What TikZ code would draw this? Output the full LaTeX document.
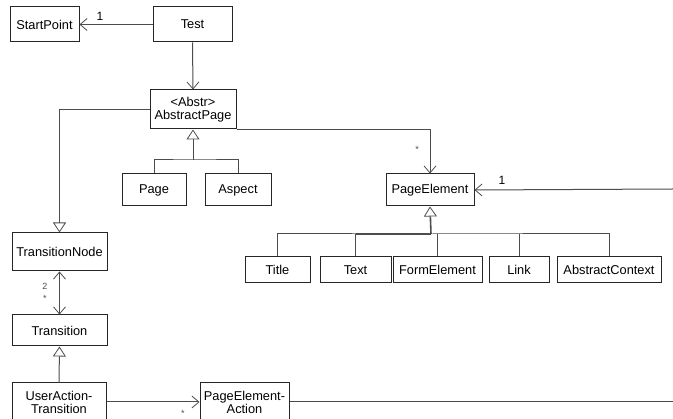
\documentclass[tikz,border=0pt]{standalone}
\usepackage{fontspec}
\setmainfont{Liberation Sans}
\usetikzlibrary{arrows.meta}
\begin{document}
\begin{tikzpicture}[x=1pt,y=-1pt,
  cls/.style={draw=black!85,line width=1pt,fill=white,inner sep=1pt,align=center,
    font=\fontsize{12.8}{14}\selectfont},
  conn/.style={draw=black!70,line width=1pt},
  nav/.style={conn,-{Straight Barb[length=7pt,width=12pt,line width=0.8pt]}},
  nav2/.style={conn,{Straight Barb[length=7pt,width=12pt,line width=0.8pt]}-{Straight Barb[length=7pt,width=12pt,line width=0.8pt]}},
  inh/.style={conn,-{Triangle[open,length=10pt,width=13pt,line width=0.8pt]}},
  mult/.style={font=\fontsize{12}{13}\selectfont,inner sep=0pt},
  smult/.style={font=\fontsize{9}{10}\selectfont,inner sep=0pt,text=black!70}]
\useasboundingbox (0,0) rectangle (673,419);
\clip (0,0) rectangle (673,419);

% classes
\node[cls,minimum width=69pt,minimum height=35pt] (start) at (44.5,24.5) {StartPoint};
\node[cls,minimum width=79pt,minimum height=35pt] (test) at (192.5,24.5) {Test};
\node[cls,minimum width=86pt,minimum height=39pt] (apage) at (193,109.5) {<Abstr>\\[-1pt]AbstractPage};
\node[cls,minimum width=64pt,minimum height=32pt] (page) at (154,190) {Page};
\node[cls,minimum width=66pt,minimum height=32pt] (aspect) at (238,190) {Aspect};
\node[cls,minimum width=88pt,minimum height=32pt] (pelem) at (430,190) {PageElement};
\node[cls,minimum width=65pt,minimum height=26pt] (title) at (277.5,270) {Title};
\node[cls,minimum width=71pt,minimum height=26pt] (text) at (355.5,270) {Text};
\node[cls,minimum width=89pt,minimum height=26pt] (form) at (437.5,270) {FormElement};
\node[cls,minimum width=60pt,minimum height=26pt] (link) at (519,270) {Link};
\node[cls,minimum width=104pt,minimum height=26pt] (actx) at (609,270) {AbstractContext};
\node[cls,minimum width=95pt,minimum height=38pt] (tnode) at (59.5,252) {TransitionNode};
\node[cls,minimum width=95pt,minimum height=31pt] (trans) at (59.5,330.5) {Transition};
\node[cls,minimum width=94pt,minimum height=38pt] (uat) at (59,402) {UserAction-\\[-1pt]Transition};
\node[cls,minimum width=89pt,minimum height=38pt] (pea) at (244.5,402) {PageElement-\\[-1pt]Action};

% junction and border points
\coordinate (g1) at (193,160);
\coordinate (g2) at (431,234);
\coordinate (rin) at (673,189);
\coordinate (rout) at (673,402);

% associations
\draw[nav] (test.west) -- (start.east) node[mult,pos=0.72,above=3pt] {1};
\draw[nav] (test.south) -- (apage.north);
\draw[inh] (apage.west |- 0,110) -| (tnode.north);
\draw[nav] (apage.south east) -| (pelem.north);
\node[smult] at (417,149) {*};
\draw[nav] (rin) -- (pelem.east);
\node[mult] at (502,180) {1};
\draw[nav2] (tnode.south) -- (trans.north);
\node[smult] at (45,286) {2};
\node[smult] at (45,298) {*};
\draw[nav] (uat.east) -- (pea.west);
\node[smult] at (183,413) {*};
\draw[conn] (pea.east) -- (rout);

% generalisations
\draw[inh] (g1) -- (apage.south);
\draw[conn] (page.north) |- (g1) -| (aspect.north);
\draw[inh,line width=1.6pt] (g2) -- (pelem.south);
\draw[conn] (title.north) |- (g2) -| (actx.north);
\draw[conn,line width=1.6pt] (text.north |- g2) -- (g2);
\draw[conn] (text.north) -- (text.north |- g2);
\draw[conn] (form.north) -- (form.north |- g2);
\draw[conn] (link.north) -- (link.north |- g2);
\draw[inh] (uat.north) -- (trans.south);
\end{tikzpicture}
\end{document}
